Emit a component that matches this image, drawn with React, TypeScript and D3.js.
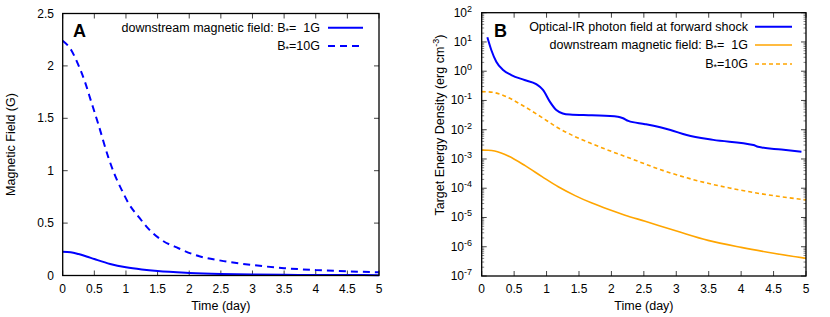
import React from "react";
import * as d3 from "d3";

// ---------- Data ----------
// Panel A: downstream magnetic field (G)
const timeA1 = [0, 0.125, 0.25, 0.375, 0.5, 0.75, 1, 1.25, 1.5, 2, 2.5, 3, 3.5, 4, 4.5, 5];
const fieldA1 = [0.226, 0.222, 0.205, 0.182, 0.157, 0.11, 0.078, 0.057, 0.042, 0.025, 0.015, 0.0095, 0.0068, 0.005, 0.004, 0.0032];
const timeA10 = [0, 0.136, 0.24, 0.35, 0.45, 0.56, 0.72, 0.83, 0.93, 1.04, 1.2, 1.35, 1.56, 1.83, 2.09, 2.5, 3, 3.5, 4, 4.5, 5];
const fieldA10 = [2.24, 2.15, 2.02, 1.85, 1.66, 1.45, 1.13, 0.95, 0.82, 0.69, 0.56, 0.45, 0.34, 0.26, 0.196, 0.142, 0.1, 0.07, 0.052, 0.04, 0.031];

// Panel B: target energy density (erg cm^-3)
const timePhoton = [0.087, 0.148, 0.225, 0.33, 0.457, 0.66, 0.84, 0.945, 1.05, 1.15, 1.25, 1.36, 1.7, 2.1, 2.18, 2.26, 2.52, 2.91, 3.16, 3.57, 4.19, 4.26, 4.62, 4.93];
const photonDensity = [14.5, 5.3, 2.1, 1.1, 0.74, 0.5, 0.36, 0.23, 0.091, 0.047, 0.036, 0.033, 0.031, 0.028, 0.0247, 0.02, 0.0155, 0.0098, 0.0066, 0.0045, 0.003, 0.0026, 0.0021, 0.00178];
const timeU1 = [0, 0.1, 0.2, 0.3, 0.41, 0.67, 0.93, 1.18, 1.44, 1.7, 1.95, 2.21, 2.52, 3.03, 3.49, 4.0, 4.5, 5];
const magU1 = [2.0e-3, 1.98e-3, 1.87e-3, 1.6e-3, 1.26e-3, 5.9e-4, 2.5e-4, 1.12e-4, 5.6e-5, 3.1e-5, 1.9e-5, 1.2e-5, 7.4e-6, 3.3e-6, 1.65e-6, 9.5e-7, 6.0e-7, 4.0e-7];
const timeU10 = [0, 0.1, 0.2, 0.3, 0.41, 0.67, 0.92, 1.18, 1.44, 1.7, 1.95, 2.29, 2.8, 3.31, 3.82, 4.34, 5];
const magU10 = [0.2, 0.197, 0.185, 0.16, 0.125, 0.06, 0.027, 0.0115, 0.0058, 0.0033, 0.002, 1.05e-3, 4.0e-4, 1.85e-4, 1.02e-4, 6.3e-5, 4.0e-5];

const xTicks = [0, 0.5, 1, 1.5, 2, 2.5, 3, 3.5, 4, 4.5, 5];
const xTickLabels = ["0", "0.5", "1", "1.5", "2", "2.5", "3", "3.5", "4", "4.5", "5"];
const yTicksA = [0, 0.5, 1, 1.5, 2, 2.5];
const yTickLabelsA = ["0", "0.5", "1", "1.5", "2", "2.5"];
const yExpB = [-7, -6, -5, -4, -3, -2, -1, 0, 1, 2];

const BLUE = "#0000ff";
const ORANGE = "#ffa500";
const FONT = "'Liberation Sans', Arial, Helvetica, sans-serif";
const FS = 12.5;

function Star() {
  return (
    <tspan fontSize={9} dy={2}>*</tspan>
  );
}

export default function App() {
  // Panel A geometry
  const aL = 62.7, aR = 379, aT = 13.5, aB = 275.5;
  const xA = d3.scaleLinear().domain([0, 5]).range([aL, aR]);
  const yA = d3.scaleLinear().domain([0, 2.5]).range([aB, aT]);
  // Panel B geometry
  const bL = 481.7, bR = 806, bT = 12.7, bB = 276;
  const xB = d3.scaleLinear().domain([0, 5]).range([bL, bR]);
  const yB = d3.scaleLog().domain([1e-7, 1e2]).range([bB, bT]);

  const lineOf = (xs: number[], ys: number[], sx: any, sy: any) =>
    d3.line<number>().x((_, i) => sx(xs[i])).y((_, i) => sy(ys[i])).curve(d3.curveMonotoneX)(ys) || "";

  const frame = (l: number, t: number, r: number, b: number) => (
    <rect x={l} y={t} width={r - l} height={b - t} fill="none" stroke="#000" strokeWidth={1.3} />
  );

  const minorB: number[] = [];
  for (let e = -7; e < 2; e++) for (let m = 2; m <= 9; m++) minorB.push(m * Math.pow(10, e));

  return (
    <svg width={830} height={317} style={{ position: "absolute", left: 0, top: 0, background: "#fff" }} fontFamily={FONT}>
      <rect x={0} y={0} width={830} height={317} fill="#fff" />
      {/* ---------- Panel A ---------- */}
      <g>
        {xTicks.map((t, i) => (
          <g key={"ax" + i} stroke="#444" strokeWidth={1}>
            <line x1={xA(t)} x2={xA(t)} y1={aB} y2={aB - 5} />
            <line x1={xA(t)} x2={xA(t)} y1={aT} y2={aT + 5} />
          </g>
        ))}
        {yTicksA.map((v, i) => (
          <g key={"ay" + i} stroke="#444" strokeWidth={1}>
            <line x1={aL} x2={aL + 5} y1={yA(v)} y2={yA(v)} />
            <line x1={aR} x2={aR - 5} y1={yA(v)} y2={yA(v)} />
          </g>
        ))}
        {xTicks.map((t, i) => (
          <text key={"axl" + i} x={xA(t)} y={293} fontSize={12} textAnchor="middle">{xTickLabels[i]}</text>
        ))}
        {yTicksA.map((v, i) => (
          <text key={"ayl" + i} x={54} y={yA(v) + 4} fontSize={12} textAnchor="end">{yTickLabelsA[i]}</text>
        ))}
        <path d={lineOf(timeA1, fieldA1, xA, yA)} fill="none" stroke={BLUE} strokeWidth={2} />
        <path d={lineOf(timeA10, fieldA10, xA, yA)} fill="none" stroke={BLUE} strokeWidth={2} strokeDasharray="7,5" />
        {frame(aL, aT, aR, aB)}
        <text x={73} y={37} fontSize={18} fontWeight="bold">A</text>
        <text x={320} y={31.9} fontSize={FS} textAnchor="end" style={{ whiteSpace: "pre" }}>
          downstream magnetic field: B<Star /><tspan dy={-2}>=  1G</tspan>
        </text>
        <line x1={328} x2={363} y1={27.7} y2={27.7} stroke={BLUE} strokeWidth={2} />
        <text x={320} y={50.2} fontSize={FS} textAnchor="end">
          B<Star /><tspan dy={-2}>=10G</tspan>
        </text>
        <line x1={328} x2={363} y1={46} y2={46} stroke={BLUE} strokeWidth={2} strokeDasharray="7,5" />
        <text x={220.8} y={310} fontSize={FS} textAnchor="middle">Time (day)</text>
        <text transform="translate(15,144.5) rotate(-90)" fontSize={FS} textAnchor="middle">Magnetic Field (G)</text>
      </g>

      {/* ---------- Panel B ---------- */}
      <g>
        {xTicks.map((t, i) => (
          <g key={"bx" + i} stroke="#444" strokeWidth={1}>
            <line x1={xB(t)} x2={xB(t)} y1={bB} y2={bB - 5} />
            <line x1={xB(t)} x2={xB(t)} y1={bT} y2={bT + 5} />
          </g>
        ))}
        {yExpB.map((e, i) => (
          <g key={"by" + i} stroke="#444" strokeWidth={1}>
            <line x1={bL} x2={bL + 5} y1={yB(Math.pow(10, e))} y2={yB(Math.pow(10, e))} />
            <line x1={bR} x2={bR - 5} y1={yB(Math.pow(10, e))} y2={yB(Math.pow(10, e))} />
          </g>
        ))}
        {minorB.map((v, i) => (
          <g key={"bm" + i} stroke="#666" strokeWidth={0.8}>
            <line x1={bL} x2={bL + 2.5} y1={yB(v)} y2={yB(v)} />
            <line x1={bR} x2={bR - 2.5} y1={yB(v)} y2={yB(v)} />
          </g>
        ))}
        {xTicks.map((t, i) => (
          <text key={"bxl" + i} x={xB(t)} y={293} fontSize={12} textAnchor="middle">{xTickLabels[i]}</text>
        ))}
        {yExpB.map((e, i) => (
          <text key={"byl" + i} x={472} y={yB(Math.pow(10, e)) + 4} fontSize={12} textAnchor="end">
            10<tspan fontSize={9} dy={-5}>{String(e)}</tspan>
          </text>
        ))}
        <path d={lineOf(timePhoton, photonDensity, xB, yB)} fill="none" stroke={BLUE} strokeWidth={2} />
        <path d={lineOf(timeU1, magU1, xB, yB)} fill="none" stroke={ORANGE} strokeWidth={1.6} />
        <path d={lineOf(timeU10, magU10, xB, yB)} fill="none" stroke={ORANGE} strokeWidth={1.6} strokeDasharray="4,3" />
        {frame(bL, bT, bR, bB)}
        <text x={494} y={37} fontSize={18} fontWeight="bold">B</text>
        <text x={748} y={30.9} fontSize={FS} textAnchor="end">Optical-IR photon field at forward shock</text>
        <line x1={755} x2={792} y1={26.7} y2={26.7} stroke={BLUE} strokeWidth={2} />
        <text x={748} y={49.2} fontSize={FS} textAnchor="end" style={{ whiteSpace: "pre" }}>
          downstream magnetic field: B<Star /><tspan dy={-2}>=  1G</tspan>
        </text>
        <line x1={755} x2={792} y1={45} y2={45} stroke={ORANGE} strokeWidth={1.6} />
        <text x={748} y={68.2} fontSize={FS} textAnchor="end">
          B<Star /><tspan dy={-2}>=10G</tspan>
        </text>
        <line x1={755} x2={792} y1={64} y2={64} stroke={ORANGE} strokeWidth={1.6} strokeDasharray="4,3" />
        <text x={643.9} y={310} fontSize={FS} textAnchor="middle">Time (day)</text>
        <text transform="translate(444,125) rotate(-90)" fontSize={FS} textAnchor="middle">
          Target Energy Density (erg cm<tspan fontSize={9} dy={-5}>-3</tspan><tspan dy={5}>)</tspan>
        </text>
      </g>
    </svg>
  );
}
